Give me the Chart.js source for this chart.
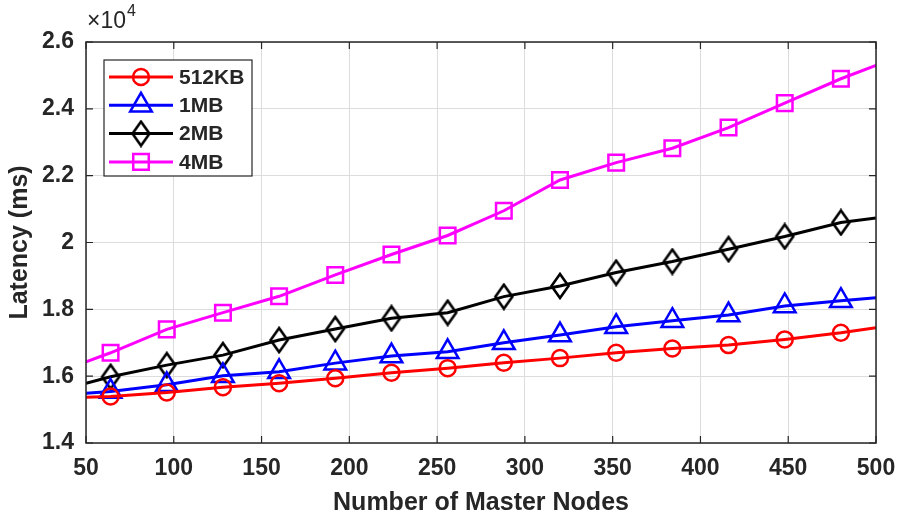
<!DOCTYPE html>
<html>
<head>
<meta charset="utf-8">
<script src="https://cdn.jsdelivr.net/npm/chart.js@4.4.1/dist/chart.umd.min.js"></script>
<style>
  html, body { margin: 0; padding: 0; background: #fff; }
  #wrap { width: 898px; height: 518px; }
</style>
</head>
<body>
<div id="wrap"><canvas id="myChart"></canvas></div>
<script>
// Data (latency in ms)
const masterNodes = [50, 64, 96, 128, 160, 192, 224, 256, 288, 320, 352, 384, 416, 448, 480, 500];
const lat512KB = [15370, 15390, 15510, 15670, 15790, 15940, 16100, 16240, 16400, 16540, 16700, 16830, 16930, 17100, 17300, 17450];
const lat1MB   = [15490, 15540, 15740, 16010, 16130, 16390, 16600, 16730, 17000, 17230, 17480, 17660, 17830, 18100, 18260, 18350];
const lat2MB   = [15790, 15980, 16330, 16630, 17080, 17410, 17730, 17900, 18380, 18700, 19100, 19430, 19800, 20180, 20600, 20730];
const lat4MB   = [16430, 16700, 17400, 17900, 18390, 19030, 19640, 20210, 20950, 21870, 22390, 22820, 23440, 24170, 24900, 25300];
const seriesLabels = ['512KB', '1MB', '2MB', '4MB'];
const xTicks = [50, 100, 150, 200, 250, 300, 350, 400, 450, 500];
const yTicks = [14000, 16000, 18000, 20000, 22000, 24000, 26000];

const axisColor = '#262626';
const fontFam = '"Liberation Sans", Arial, sans-serif';

// MATLAB style diamond is taller than wide, so draw it on a small canvas
function diamondMarker(color) {
  const c = document.createElement('canvas');
  c.width = 22; c.height = 28;
  const g = c.getContext('2d');
  g.strokeStyle = color;
  g.lineWidth = 2.6;
  g.beginPath();
  g.moveTo(11, 2); g.lineTo(19.5, 14); g.lineTo(11, 26); g.lineTo(2.5, 14);
  g.closePath();
  g.stroke();
  return c;
}

// no marker on the first / last point (line just runs to the box edge)
function radii(r) {
  return masterNodes.map((x, i) => (i == 0 || i == masterNodes.length - 1) ? 0 : r);
}

function makeSet(label, values, color, style, r) {
  return {
    label: label,
    data: masterNodes.map((x, i) => ({x: x, y: values[i]})),
    borderColor: color,
    backgroundColor: color,
    borderWidth: 3,
    pointStyle: style,
    pointRadius: radii(r),
    pointHoverRadius: radii(r),
    pointBorderColor: color,
    pointBackgroundColor: 'rgba(0,0,0,0)',
    pointBorderWidth: 2.5,
    tension: 0
  };
}

var data = {
  datasets: [
    makeSet(seriesLabels[0], lat512KB, '#ff0000', 'circle', 8),
    makeSet(seriesLabels[1], lat1MB, '#0000ff', 'triangle', 12.5),
    makeSet(seriesLabels[2], lat2MB, '#000000', diamondMarker('#000000'), 10),
    makeSet(seriesLabels[3], lat4MB, '#ff00ff', 'rect', 11)
  ]
};

// MATLAB-ish box, inward ticks, legend and x10^4 label
const matlabDecor = {
  id: 'matlabDecor',
  afterDraw(chart) {
    const ctx = chart.ctx;
    const a = chart.chartArea;
    const xs = chart.scales.x, ys = chart.scales.y;
    ctx.save();
    ctx.strokeStyle = axisColor;
    ctx.lineWidth = 1.5;
    ctx.strokeRect(a.left, a.top, a.right - a.left, a.bottom - a.top);
    ctx.lineWidth = 1.2;
    ctx.beginPath();
    xTicks.forEach(v => {
      const px = xs.getPixelForValue(v);
      ctx.moveTo(px, a.bottom); ctx.lineTo(px, a.bottom - 7);
      ctx.moveTo(px, a.top); ctx.lineTo(px, a.top + 7);
    });
    yTicks.forEach(v => {
      const py = ys.getPixelForValue(v);
      ctx.moveTo(a.left, py); ctx.lineTo(a.left + 7, py);
      ctx.moveTo(a.right, py); ctx.lineTo(a.right - 7, py);
    });
    ctx.stroke();

    // exponent label
    ctx.fillStyle = axisColor;
    ctx.textBaseline = 'alphabetic';
    ctx.textAlign = 'left';
    ctx.font = '23px ' + fontFam;
    ctx.fillText('\u00d710', a.left + 1, 28);
    const w = ctx.measureText('\u00d710').width;
    ctx.font = '16px ' + fontFam;
    ctx.fillText('4', a.left + 2 + w, 16);

    // legend
    const lx = 104, ly = 60, lw = 148, lh = 116;
    ctx.fillStyle = '#ffffff';
    ctx.fillRect(lx, ly, lw, lh);
    ctx.strokeStyle = axisColor;
    ctx.lineWidth = 1.2;
    ctx.strokeRect(lx, ly, lw, lh);
    chart.data.datasets.forEach((ds, i) => {
      const cy = 77 + i * 28.3;
      ctx.strokeStyle = ds.borderColor;
      ctx.lineWidth = 3;
      ctx.beginPath();
      ctx.moveTo(109, cy); ctx.lineTo(173, cy);
      ctx.stroke();
      ctx.fillStyle = 'rgba(0,0,0,0)';
      ctx.lineWidth = 2.5;
      Chart.helpers.drawPoint(ctx, {
        pointStyle: ds.pointStyle, radius: ds.pointRadius[1], rotation: 0, borderWidth: 2.5
      }, 141, cy);
      ctx.fillStyle = axisColor;
      ctx.font = 'bold 21px ' + fontFam;
      ctx.textBaseline = 'middle';
      ctx.fillText(ds.label, 179, cy + 1);
    });
    ctx.restore();
  }
};

var config = {
  type: 'line',
  data: data,
  options: {
    responsive: true,
    maintainAspectRatio: false,
    animation: false,
    layout: { padding: { top: 42, right: 22, left: 0, bottom: 0 } },
    plugins: {
      legend: { display: false },
      tooltip: { enabled: false }
    },
    scales: {
      x: {
        type: 'linear',
        min: 50,
        max: 500,
        afterBuildTicks(scale) { scale.ticks = xTicks.map(v => ({value: v})); },
        afterFit(scale) { scale.height = 75; scale.paddingLeft = 0; scale.paddingRight = 0; },
        ticks: { color: axisColor, padding: 12, font: { family: fontFam, size: 23, weight: 'bold' }, maxRotation: 0 },
        grid: { color: '#dcdcdc', lineWidth: 1, drawTicks: false },
        border: { display: false },
        title: { display: true, text: 'Number of Master Nodes', color: axisColor,
                 font: { family: fontFam, size: 25, weight: 'bold' }, padding: { top: 0, bottom: 0 } }
      },
      y: {
        min: 14000,
        max: 26000,
        afterBuildTicks(scale) { scale.ticks = yTicks.map(v => ({value: v})); },
        afterFit(scale) { scale.width = 86; scale.paddingTop = 0; scale.paddingBottom = 0; },
        ticks: { color: axisColor, padding: 12, font: { family: fontFam, size: 23, weight: 'bold' },
                 callback: v => String(+(v / 10000).toFixed(1)) },
        grid: { color: '#dcdcdc', lineWidth: 1, drawTicks: false },
        border: { display: false },
        title: { display: true, text: 'Latency (ms)', color: axisColor,
                 font: { family: fontFam, size: 25, weight: 'bold' }, padding: { top: 5, bottom: 0 } }
      }
    }
  },
  plugins: [matlabDecor]
};

// Draw chart
var myChart = new Chart(document.getElementById('myChart'), config);
</script>
</body>
</html>
